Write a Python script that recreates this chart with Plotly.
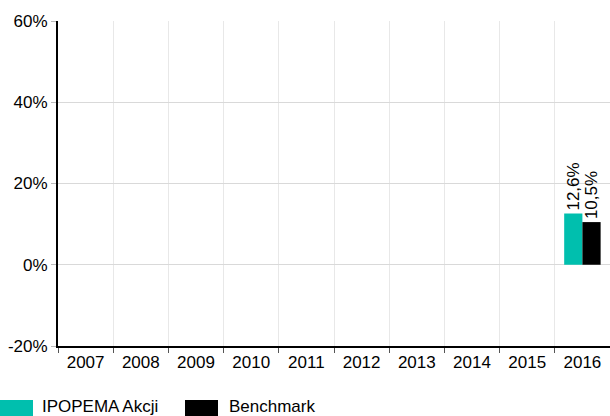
import plotly.graph_objects as go

years = ["2007", "2008", "2009", "2010", "2011", "2012", "2013", "2014", "2015", "2016"]
fund = [None, None, None, None, None, None, None, None, None, 12.6]
bench = [None, None, None, None, None, None, None, None, None, 10.5]
names = ["IPOPEMA Akcji", "Benchmark"]
colors = ["#00bfae", "#000000"]
y_ticks = [-20, 0, 20, 40, 60]

W, H = 610, 416
ml, mr, mt, mb = 58, 0, 21, 70
pw = W - ml - mr
ph = H - mt - mb

fig = go.Figure()
for vals, name, col in zip([fund, bench], names, colors):
    fig.add_trace(go.Bar(
        x=years, y=vals, name=name, marker_color=col, marker_line_width=0,
        texttemplate="%{y:.1f}%", textposition="outside", textangle=-90,
        constraintext="none",
        textfont=dict(size=17, color="#000000"), cliponaxis=False,
        showlegend=False,
    ))

# legend drawn manually
def px_x(p):
    return (p - ml) / pw
def px_y(p):
    return (H - mb - p) / ph

leg = [(0, 33, 40, names[0], colors[0]), (185, 218, 227, names[1], colors[1])]
for x0, x1, tx, name, col in leg:
    fig.add_shape(type="rect", xref="paper", yref="paper",
                  x0=px_x(x0), x1=px_x(x1), y0=px_y(417), y1=px_y(400),
                  fillcolor=col, line_width=0)
    fig.add_annotation(xref="paper", yref="paper", x=px_x(tx), y=px_y(407),
                       text=name, showarrow=False, xanchor="left", yanchor="middle",
                       font=dict(size=17, color="#000000"))

fig.update_layout(
    width=W, height=H, margin=dict(l=ml, r=mr, t=mt, b=mb),
    paper_bgcolor="white", plot_bgcolor="white",
    barmode="group", bargap=0.34, bargroupgap=0,
    separators=", ",
    font=dict(family="Liberation Sans, Arial, sans-serif", size=17, color="#000000"),
)
fig.update_xaxes(
    type="category", categoryorder="array", categoryarray=years,
    tickson="boundaries", ticks="outside", ticklen=5, tickcolor="#555555",
    showgrid=True, gridcolor="#e8e8e8", gridwidth=1,
    showline=True, linecolor="#000000", linewidth=2,
    tickfont=dict(size=17), range=[-0.5, 9.5],
)
fig.update_yaxes(
    range=[-20, 60], tickvals=y_ticks, ticktext=[f"{v}%" for v in y_ticks],
    ticks="outside", ticklen=5, tickcolor="#bbbbbb",
    showgrid=True, gridcolor="#d9d9d9", gridwidth=1, zeroline=False,
    showline=True, linecolor="#000000", linewidth=2,
    tickfont=dict(size=17),
)

fig.write_html("out.html", config={"displayModeBar": False},
               post_script="document.body.style.margin='0';document.body.style.overflow='hidden';")
